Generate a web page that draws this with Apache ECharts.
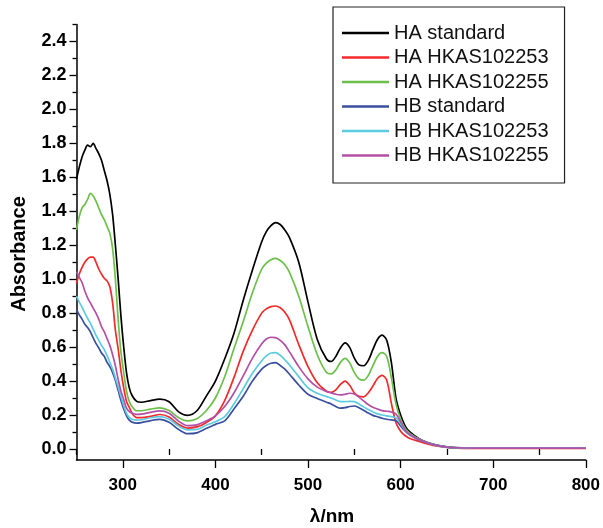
<!DOCTYPE html>
<html><head><meta charset="utf-8">
<script src="https://cdn.jsdelivr.net/npm/echarts@6/dist/echarts.min.js"></script>
<style>html,body{margin:0;padding:0;background:#fff}#c{width:603px;height:528px}</style>
</head><body><div id="c"></div>
<script>
// Wavelength grid (nm)
const wavelengths = [250,253,256,259,262,265,268,271,274,277,280,283,286,289,292,295,298,301,304,307,310,315,320,330,340,350,360,370,380,390,400,410,420,430,440,450,455,460,465,470,475,480,490,500,510,520,525,530,535,540,545,550,555,560,565,570,575,580,585,590,595,600,605,610,620,630,640,650,660,680,700,750,800];

const haStandard = [1.59,1.66,1.72,1.76,1.79,1.78,1.80,1.77,1.74,1.70,1.64,1.58,1.50,1.38,1.20,1.00,0.78,0.60,0.45,0.36,0.315,0.28,0.275,0.285,0.293,0.278,0.22,0.198,0.225,0.31,0.40,0.53,0.68,0.875,1.054,1.22,1.28,1.315,1.333,1.322,1.29,1.245,1.10,0.865,0.645,0.53,0.515,0.545,0.595,0.625,0.598,0.535,0.495,0.49,0.52,0.585,0.645,0.67,0.64,0.51,0.30,0.20,0.135,0.10,0.06,0.036,0.021,0.012,0.008,0.006,0.005,0.005,0.005];

const haHKAS102253 = [0.975,1.03,1.07,1.10,1.12,1.13,1.13,1.10,1.06,1.03,1.005,0.99,0.955,0.86,0.70,0.59,0.46,0.36,0.28,0.245,0.21,0.185,0.185,0.192,0.203,0.188,0.145,0.123,0.13,0.155,0.195,0.285,0.42,0.575,0.70,0.80,0.825,0.838,0.842,0.832,0.805,0.76,0.615,0.485,0.39,0.34,0.333,0.348,0.38,0.40,0.375,0.33,0.31,0.307,0.33,0.37,0.415,0.434,0.405,0.27,0.155,0.105,0.078,0.062,0.044,0.028,0.016,0.009,0.005,0.004,0.004,0.004,0.004];

const haHKAS102255 = [1.29,1.37,1.42,1.44,1.47,1.505,1.49,1.46,1.42,1.38,1.35,1.31,1.27,1.18,1.00,0.76,0.57,0.45,0.34,0.28,0.25,0.225,0.225,0.235,0.242,0.226,0.185,0.165,0.178,0.225,0.30,0.425,0.59,0.75,0.92,1.06,1.095,1.115,1.123,1.11,1.085,1.04,0.90,0.72,0.555,0.45,0.442,0.465,0.51,0.534,0.507,0.45,0.413,0.405,0.432,0.49,0.545,0.567,0.545,0.42,0.265,0.175,0.12,0.092,0.058,0.035,0.02,0.011,0.007,0.005,0.005,0.005,0.005];

const hbStandard = [0.82,0.79,0.765,0.735,0.715,0.69,0.655,0.622,0.595,0.565,0.545,0.51,0.485,0.45,0.405,0.345,0.285,0.235,0.195,0.17,0.158,0.152,0.155,0.167,0.174,0.157,0.116,0.09,0.095,0.12,0.145,0.165,0.235,0.31,0.40,0.47,0.492,0.505,0.508,0.492,0.47,0.44,0.377,0.322,0.297,0.275,0.265,0.25,0.24,0.243,0.25,0.253,0.243,0.228,0.212,0.198,0.19,0.181,0.175,0.171,0.167,0.135,0.105,0.082,0.053,0.034,0.02,0.011,0.007,0.005,0.005,0.005,0.005];

const hbHKAS102253 = [0.90,0.865,0.835,0.80,0.77,0.74,0.705,0.67,0.64,0.61,0.585,0.55,0.51,0.47,0.42,0.365,0.31,0.255,0.21,0.185,0.175,0.17,0.172,0.184,0.19,0.175,0.136,0.113,0.115,0.14,0.16,0.19,0.265,0.355,0.446,0.52,0.548,0.565,0.568,0.552,0.525,0.495,0.426,0.36,0.328,0.308,0.30,0.288,0.279,0.279,0.28,0.279,0.265,0.248,0.232,0.218,0.207,0.20,0.195,0.19,0.183,0.15,0.11,0.085,0.055,0.035,0.02,0.011,0.007,0.005,0.005,0.005,0.005];

const hbHKAS102255 = [1.044,1.01,0.98,0.93,0.89,0.86,0.83,0.80,0.765,0.72,0.69,0.65,0.61,0.555,0.49,0.41,0.34,0.29,0.24,0.22,0.21,0.204,0.205,0.216,0.224,0.21,0.165,0.137,0.142,0.165,0.195,0.25,0.33,0.43,0.535,0.62,0.648,0.658,0.656,0.64,0.613,0.572,0.485,0.413,0.364,0.338,0.33,0.322,0.318,0.322,0.328,0.324,0.305,0.283,0.262,0.246,0.235,0.226,0.222,0.218,0.206,0.16,0.112,0.085,0.055,0.035,0.02,0.011,0.007,0.005,0.005,0.005,0.005];

const seriesNames = ['HA standard','HA HKAS102253','HA HKAS102255','HB standard','HB HKAS102253','HB HKAS102255'];
const seriesColors = ['#000000','#f42a2a','#6cc04a','#3a4f9e','#5ccbe0','#b34fa6'];
const seriesValues = [haStandard, haHKAS102253, haHKAS102255, hbStandard, hbHKAS102253, hbHKAS102255];

const xTickLabels = [300,400,500,600,700,800];
const xMinorTicks = [250,350,450,550,650,750];
const yTickLabels = [0,0.2,0.4,0.6,0.8,1.0,1.2,1.4,1.6,1.8,2.0,2.2,2.4];
const yMinorTicks = [0.1,0.3,0.5,0.7,0.9,1.1,1.3,1.5,1.7,1.9,2.1,2.3,2.5];

const FONT = "'Liberation Sans', Arial, sans-serif";
const chart = echarts.init(document.getElementById('c'), null, {renderer:'canvas'});

const axisLineStyle = {color:'#000', width:1.5};
chart.setOption({
  animation:false,
  backgroundColor:'#fff',
  grid:{left:76.5, right:15, top:24.5, bottom:68, containLabel:false},
  xAxis:[
    {type:'value', min:250, max:800, position:'bottom',
     axisLine:{show:true, onZero:false, lineStyle:axisLineStyle},
     axisTick:{show:true, inside:false, length:8, lineStyle:{color:'#000', width:1.3}, customValues:xTickLabels},
     axisLabel:{show:true, customValues:xTickLabels, margin:17, fontSize:17, fontWeight:'bold', fontFamily:FONT, color:'#000'},
     splitLine:{show:false}},
    {type:'value', min:250, max:800, position:'bottom',
     axisLine:{show:false},
     axisTick:{show:true, inside:false, length:6, lineStyle:{color:'#000', width:1.3}, customValues:xMinorTicks},
     axisLabel:{show:false}, splitLine:{show:false}}
  ],
  yAxis:[
    {type:'value', min:-0.065, max:2.5, position:'left',
     axisLine:{show:true, onZero:false, lineStyle:axisLineStyle},
     axisTick:{show:true, inside:false, length:7, lineStyle:{color:'#000', width:1.3}, customValues:yTickLabels},
     axisLabel:{show:true, customValues:yTickLabels, margin:10, fontSize:18, fontWeight:'bold', fontFamily:FONT, color:'#000',
       formatter:v=>Number(v).toFixed(1)},
     splitLine:{show:false}},
    {type:'value', min:-0.065, max:2.5, position:'left',
     axisLine:{show:false},
     axisTick:{show:true, inside:false, length:4, lineStyle:{color:'#000', width:1.3}, customValues:yMinorTicks},
     axisLabel:{show:false}, splitLine:{show:false}}
  ],
  legend:{
    orient:'vertical', left:333, top:7,
    padding:[16,16,17.5,9], itemGap:4.5,
    borderColor:'#222', borderWidth:1.2,
    icon:'rect', itemWidth:47, itemHeight:2.5,
    textStyle:{fontSize:20, fontFamily:FONT, color:'#111'},
    data:seriesNames
  },
  graphic:[
    {type:'text', x:19, y:254, rotation:Math.PI/2,
     style:{text:'Absorbance', fontSize:20, fontWeight:'bold', fontFamily:FONT, fill:'#000', align:'center', verticalAlign:'middle'}},
    {type:'text', x:332, y:517,
     style:{text:'λ/nm', fontSize:19, fontWeight:'bold', fontFamily:FONT, fill:'#000', align:'center', verticalAlign:'middle'}}
  ],
  series: seriesNames.map((name,k)=>({
    name, type:'line', xAxisIndex:0, yAxisIndex:0,
    showSymbol:false, smooth:0.3, clip:true,
    lineStyle:{color:seriesColors[k], width:1.7},
    itemStyle:{color:seriesColors[k]},
    data: wavelengths.map((w,i)=>[w, seriesValues[k][i]])
  }))
});
</script></body></html>
